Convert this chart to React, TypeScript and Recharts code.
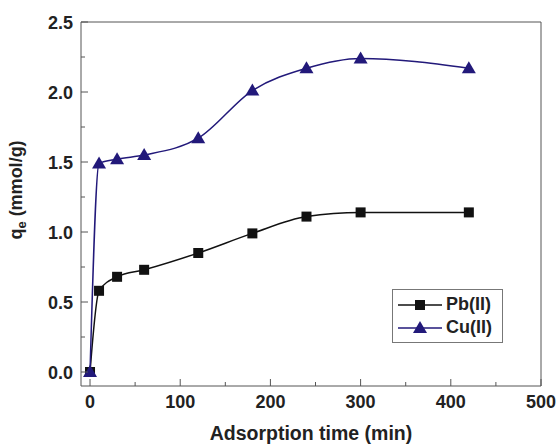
import { LineChart, Line, XAxis, YAxis, Legend, ReferenceLine } from 'recharts';

const times = [0, 10, 30, 60, 120, 180, 240, 300, 420];
const pbValues = [0, 0.58, 0.68, 0.73, 0.85, 0.99, 1.11, 1.14, 1.14];
const cuValues = [0, 1.49, 1.52, 1.55, 1.67, 2.01, 2.17, 2.24, 2.17];
const xTicks = [0, 50, 100, 150, 200, 250, 300, 350, 400, 450, 500];
const yTicks = [0, 0.25, 0.5, 0.75, 1, 1.25, 1.5, 1.75, 2, 2.25, 2.5];

const PB_COLOR = '#111111';
const CU_COLOR = '#22197a';
const FRAME = '#555555';
const FONT = '"Liberation Sans", Arial, sans-serif';

const data = times.map((t, i) => ({ t, pb: pbValues[i], cu: cuValues[i] }));

// ticks point into the plot, labels only on the major ones
const XTick = (props: any) => {
  const { x, y, payload } = props;
  const major = payload.value % 100 === 0;
  return (
    <g>
      <line x1={x} x2={x} y1={y} y2={y - (major ? 7 : 4)} stroke={FRAME} strokeWidth={1} />
      {major && (
        <text x={x} y={y + 22} textAnchor="middle" fontSize={18} fontWeight="bold" fill="#222" fontFamily={FONT}>
          {payload.value}
        </text>
      )}
    </g>
  );
};

const YTick = (props: any) => {
  const { x, y, payload } = props;
  const major = Math.abs((payload.value * 2) % 1) < 1e-6;
  return (
    <g>
      <line x1={x} x2={x + (major ? 7 : 4)} y1={y} y2={y} stroke={FRAME} strokeWidth={1} />
      {major && (
        <text x={x - 8} y={y + 6.5} textAnchor="end" fontSize={18} fontWeight="bold" fill="#222" fontFamily={FONT}>
          {payload.value.toFixed(1)}
        </text>
      )}
    </g>
  );
};

const Square = (props: any) => {
  const { cx, cy } = props;
  return <rect x={cx - 5} y={cy - 5} width={10} height={10} fill={PB_COLOR} />;
};

const Triangle = (props: any) => {
  const { cx, cy } = props;
  return <polygon points={`${cx},${cy - 7} ${cx - 7},${cy + 5} ${cx + 7},${cy + 5}`} fill={CU_COLOR} />;
};

const legendItems = [
  { name: 'Pb(II)', color: PB_COLOR, shape: 'square' },
  { name: 'Cu(II)', color: CU_COLOR, shape: 'triangle' },
];

const LegendBox = () => (
  <div style={{ border: '1px solid #777', background: '#fff', padding: '3px 4px', fontFamily: FONT }}>
    {legendItems.map((item) => (
      <div key={item.name} style={{ display: 'flex', alignItems: 'center', height: 23 }}>
        <svg width={46} height={16}>
          <line x1={1} x2={45} y1={8} y2={8} stroke={item.color} strokeWidth={1.5} />
          {item.shape === 'square' ? (
            <rect x={18} y={3} width={10} height={10} fill={item.color} />
          ) : (
            <polygon points="23,1 16,13 30,13" fill={item.color} />
          )}
        </svg>
        <span style={{ fontSize: 18, fontWeight: 'bold', color: '#222', marginLeft: 3 }}>{item.name}</span>
      </div>
    ))}
  </div>
);

const YLabel = () => (
  <text
    transform="translate(22, 190) rotate(-90)"
    textAnchor="middle"
    fontSize={18}
    fontWeight="bold"
    fill="#222"
    fontFamily={FONT}
  >
    q<tspan fontSize={13} dy={4}>e</tspan>
    <tspan dy={-4}> (mmol/g)</tspan>
  </text>
);

export default function App() {
  return (
    <div style={{ position: 'absolute', left: 0, top: 0, background: '#fff' }}>
      <LineChart width={558} height={445} data={data} margin={{ top: 22, right: 17, bottom: 0, left: 0 }}>
        <XAxis
          dataKey="t"
          type="number"
          domain={[-10, 500]}
          ticks={xTicks}
          height={59}
          tickSize={0}
          tickMargin={0}
          tickLine={false}
          tick={<XTick />}
          stroke={FRAME}
          label={{
            value: 'Adsorption time (min)',
            position: 'insideBottom',
            offset: 5,
            fontSize: 19.5,
            fontWeight: 'bold',
            fill: '#222',
            fontFamily: FONT,
          }}
        />
        <YAxis
          type="number"
          domain={[-0.1, 2.5]}
          ticks={yTicks}
          width={81}
          tickSize={0}
          tickMargin={0}
          tickLine={false}
          tick={<YTick />}
          stroke={FRAME}
          label={<YLabel />}
        />
        <ReferenceLine y={2.5} stroke={FRAME} />
        <ReferenceLine x={500} stroke={FRAME} />
        <Line
          type="monotone"
          dataKey="pb"
          name="Pb(II)"
          stroke={PB_COLOR}
          strokeWidth={1.5}
          dot={<Square />}
          isAnimationActive={false}
        />
        <Line
          type="monotone"
          dataKey="cu"
          name="Cu(II)"
          stroke={CU_COLOR}
          strokeWidth={1.5}
          dot={<Triangle />}
          isAnimationActive={false}
        />
        <Legend
          layout="horizontal"
          verticalAlign="middle"
          align="center"
          content={<LegendBox />}
          wrapperStyle={{ left: 392, top: 289, width: 111 }}
        />
      </LineChart>
    </div>
  );
}
